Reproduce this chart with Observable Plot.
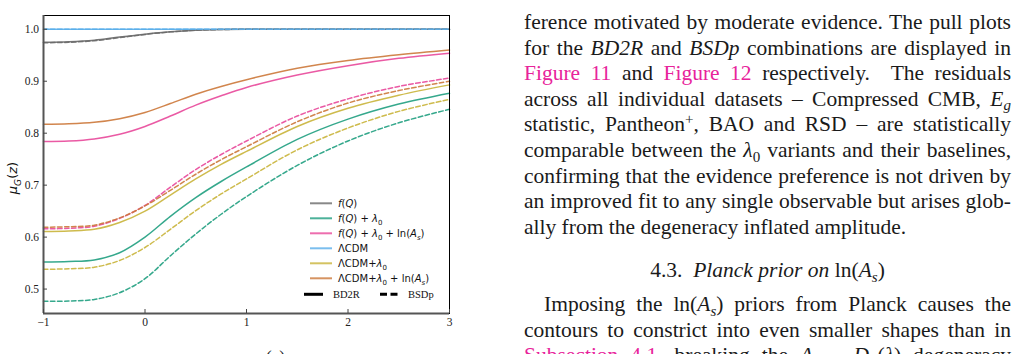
<!DOCTYPE html>
<html><head><meta charset="utf-8">
<script src="https://cdn.jsdelivr.net/npm/d3@7"></script>
<script src="https://cdn.jsdelivr.net/npm/@observablehq/plot@0.6"></script>
<style>
body{margin:0;background:#fff;width:1016px;height:354px;overflow:hidden;position:relative;}
#chart{position:absolute;left:0;top:0;}
#cap{position:absolute;left:266px;top:347px;font-family:"Liberation Serif",serif;font-size:17px;color:#222;}
#text{position:absolute;left:524px;top:0;width:487px;height:354px;font-family:"Liberation Serif",serif;font-size:21.5px;color:#1a1a1a;}
.ln{position:absolute;left:0;width:487px;white-space:nowrap;text-align:justify;text-align-last:justify;height:25.6px;line-height:25.6px;}
.ln.last{text-align:left;text-align-last:left;}
.ln.center{text-align:center;text-align-last:center;}
.ln.indent{padding-left:20px;width:467px;}
.lk{color:#e8239b;}
sub,sup{font-size:70%;line-height:0;position:relative;vertical-align:baseline;}
sub{top:0.3em;} sup{top:-0.5em;}
</style></head>
<body>
<div id="chart"></div>
<div id="cap">(a)</div>
<div id="text"></div>
<script>
// ---- data ----
const xGrid = [-1, -0.75, -0.5, -0.25, 0, 0.25, 0.5, 0.75, 1, 1.5, 2, 2.5, 3];
const fQ_BD2R       = [0.975, 0.976, 0.979, 0.985, 0.9905, 0.995, 0.998, 0.9995, 1.0, 1.0, 1.0, 1.0, 1.0];
const fQ_BSDp       = [0.974, 0.975, 0.978, 0.984, 0.990, 0.995, 0.998, 0.9995, 1.0, 1.0, 1.0, 1.0, 1.0];
const fQL_BD2R      = [0.552, 0.553, 0.556, 0.570, 0.600, 0.640, 0.676, 0.707, 0.735, 0.788, 0.827, 0.856, 0.877];
const fQL_BSDp      = [0.4765, 0.477, 0.480, 0.493, 0.520, 0.564, 0.606, 0.644, 0.678, 0.738, 0.785, 0.820, 0.846];
const fQLA_BD2R     = [0.784, 0.785, 0.789, 0.798, 0.813, 0.833, 0.854, 0.872, 0.888, 0.912, 0.930, 0.944, 0.954];
const fQLA_BSDp     = [0.616, 0.617, 0.621, 0.636, 0.661, 0.696, 0.730, 0.759, 0.785, 0.833, 0.866, 0.890, 0.906];
const LCDM_BD2R     = [1.0, 1.0, 1.0, 1.0, 1.0, 1.0, 1.0, 1.0, 1.0, 1.0, 1.0, 1.0, 1.0];
const LCDM_BSDp     = [1.0, 1.0, 1.0, 1.0, 1.0, 1.0, 1.0, 1.0, 1.0, 1.0, 1.0, 1.0, 1.0];
const LCDML_BD2R    = [0.611, 0.612, 0.615, 0.628, 0.650, 0.681, 0.712, 0.740, 0.765, 0.813, 0.848, 0.873, 0.893];
const LCDML_BSDp    = [0.538, 0.539, 0.542, 0.555, 0.580, 0.615, 0.651, 0.683, 0.712, 0.768, 0.810, 0.842, 0.865];
const LCDMLA_BD2R   = [0.817, 0.818, 0.821, 0.828, 0.840, 0.857, 0.875, 0.890, 0.903, 0.925, 0.940, 0.951, 0.960];
const LCDMLA_BSDp   = [0.619, 0.620, 0.623, 0.637, 0.660, 0.690, 0.721, 0.749, 0.774, 0.822, 0.858, 0.882, 0.900];

const models = ["f(Q)", "f(Q)+λ0", "f(Q)+λ0+ln(As)", "ΛCDM", "ΛCDM+λ0", "ΛCDM+λ0+ln(As)"];
const modelColors = ["#6a6a6a", "#1f9e80", "#e8489a", "#5aaeea", "#c9b43a", "#cc783a"];
const bd2rSeries = [fQ_BD2R, fQL_BD2R, fQLA_BD2R, LCDM_BD2R, LCDML_BD2R, LCDMLA_BD2R];
const bsdpSeries = [fQ_BSDp, fQL_BSDp, fQLA_BSDp, LCDM_BSDp, LCDML_BSDp, LCDMLA_BSDp];
const xTicks = [-1, 0, 1, 2, 3];
const yTicks = [0.5, 0.6, 0.7, 0.8, 0.9, 1.0];
const xDomain = [-1, 3];
const yDomain = [0.453, 1.0265];

function rows(seriesList, combo) {
  const out = [];
  seriesList.forEach((vals, i) => vals.forEach((v, j) => out.push({x: xGrid[j], mu: v, model: models[i], combo})));
  return out;
}
const solidRows = rows(bd2rSeries, "BD2R");
const dashRows = rows(bsdpSeries, "BSDp");

const plot = Plot.plot({
  width: 460, height: 354,
  marginLeft: 43, marginRight: 11, marginTop: 15, marginBottom: 41,
  style: {fontFamily: "'Liberation Serif', serif", fontSize: "11.5px", color: "#222", background: "transparent"},
  x: {domain: xDomain, label: null},
  y: {domain: yDomain, label: null},
  color: {domain: models, range: modelColors},
  marks: [
    Plot.line(solidRows, {x: "x", y: "mu", z: "model", stroke: "model", strokeWidth: 1.5, strokeOpacity: 0.9, curve: "catmull-rom"}),
    Plot.line(dashRows, {x: "x", y: "mu", z: "model", stroke: "model", strokeWidth: 1.5, strokeOpacity: 0.9, strokeDasharray: "4.5,2.5", curve: "catmull-rom"}),
    Plot.frame({stroke: "#000", strokeWidth: 1}),
    Plot.ruleX(xDomain.slice(0, 1), {stroke: "#555", strokeWidth: 2}),
    Plot.ruleY(yDomain.slice(0, 1), {stroke: "#555", strokeWidth: 2}),
    Plot.axisY({ticks: yTicks, tickSize: -4, fill: "none", stroke: "#444", label: null}),
    Plot.axisY({ticks: yTicks, tickSize: 0, tickPadding: 4.5, label: null, tickFormat: d3.format(".1f")}),
    Plot.axisX({ticks: xTicks, tickSize: -4, fill: "none", stroke: "#444", label: null}),
    Plot.axisX({ticks: xTicks, tickSize: 0, tickPadding: 4, label: null, tickFormat: d => d < 0 ? "\u2212" + (-d) : String(d)})
  ]
});
document.getElementById("chart").append(plot);

// ---- y label and legend drawn into the SVG ----
const svg = d3.select(plot);
function richText(sel, parts, size) {
  let pending = 0;
  parts.forEach(([t, s]) => {
    const sp = sel.append("tspan").text(t);
    let dy = pending;
    pending = 0;
    if (s && s.includes("i")) sp.attr("font-style", "italic");
    if (s && s.includes("b")) {
      sp.attr("font-size", size * 0.7);
      dy += size * 0.28;
      pending = -size * 0.28;
    }
    if (dy) sp.attr("dy", dy);
  });
}
const yl = svg.append("text").attr("transform", "translate(17,178) rotate(-90)")
  .attr("text-anchor", "middle").attr("font-family", "'DejaVu Sans', sans-serif").attr("font-size", 13).attr("fill", "#111");
richText(yl, [["μ", "i"], ["G", "ib"], ["("], ["z", "i"], [")"]], 13);

const legendParts = [
  [["f", "i"], ["("], ["Q", "i"], [")"]],
  [["f", "i"], ["("], ["Q", "i"], [") + "], ["λ", "i"], ["0", "b"]],
  [["f", "i"], ["("], ["Q", "i"], [") + "], ["λ", "i"], ["0", "b"], [" + ln("], ["A", "i"], ["s", "ib"], [")"]],
  [["ΛCDM"]],
  [["ΛCDM+"], ["λ", "i"], ["0", "b"]],
  [["ΛCDM+"], ["λ", "i"], ["0", "b"], [" + ln("], ["A", "i"], ["s", "ib"], [")"]]
];
const lg = svg.append("g").attr("font-family", "'DejaVu Sans', sans-serif").attr("font-size", 10)
  .attr("fill", "#111").attr("text-anchor", "start");
models.forEach((m, i) => {
  const cy = 203.3 + i * 15;
  lg.append("line").attr("x1", 310).attr("x2", 332).attr("y1", cy).attr("y2", cy)
    .attr("stroke", modelColors[i]).attr("stroke-width", 2).attr("stroke-opacity", 0.8);
  const t = lg.append("text").attr("x", 338).attr("y", cy + 3.6);
  richText(t, legendParts[i], 10);
});
const cyS = 294.3;
lg.append("line").attr("x1", 304).attr("x2", 323).attr("y1", cyS).attr("y2", cyS).attr("stroke", "#000").attr("stroke-width", 3);
lg.append("text").attr("x", 333).attr("y", cyS + 3.6).attr("font-family", "'Liberation Serif', serif").attr("font-size", 10.5).text("BD2R");
lg.append("line").attr("x1", 380).attr("x2", 400).attr("y1", cyS).attr("y2", cyS).attr("stroke", "#000").attr("stroke-width", 3).attr("stroke-dasharray", "7,3.5");
lg.append("text").attr("x", 408).attr("y", cyS + 3.6).attr("font-family", "'Liberation Serif', serif").attr("font-size", 10.5).text("BSDp");

// ---- right-hand text column ----
const lines = [
  ["", 10, "ference motivated by moderate evidence. The pull plots"],
  ["", 35.6, "for the <i>BD2R</i> and <i>BSDp</i> combinations are displayed in"],
  ["", 61.2, "<span class='lk'>Figure 11</span> and <span class='lk'>Figure 12</span> respectively.&nbsp; The residuals"],
  ["", 86.8, "across all individual datasets – Compressed CMB, <i>E<sub>g</sub></i>"],
  ["", 112.4, "statistic, Pantheon<sup>+</sup>, BAO and RSD – are statistically"],
  ["", 138, "comparable between the <i>λ</i><sub>0</sub> variants and their baselines,"],
  ["", 163.6, "confirming that the evidence preference is not driven by"],
  ["", 189.2, "an improved fit to any single observable but arises glob-"],
  ["last", 214.8, "ally from the degeneracy inflated amplitude."],
  ["center", 258, "4.3.&nbsp; <i>Planck prior on</i> ln(<i>A<sub>s</sub></i>)"],
  ["indent", 292, "Imposing the ln(<i>A<sub>s</sub></i>) priors from Planck causes the"],
  ["", 317.6, "contours to constrict into even smaller shapes than in"],
  ["", 343.2, "<span class='lk'>Subsection 4.1</span>, breaking the <i>A<sub>s</sub></i> – <i>D<sub>L</sub></i>(<i>λ</i>) degeneracy"]
];
const tc = document.getElementById("text");
lines.forEach(([cls, top, html]) => {
  const d = document.createElement("div");
  d.className = "ln " + cls;
  d.style.top = top + "px";
  d.innerHTML = html;
  tc.append(d);
});
</script>
</body></html>
